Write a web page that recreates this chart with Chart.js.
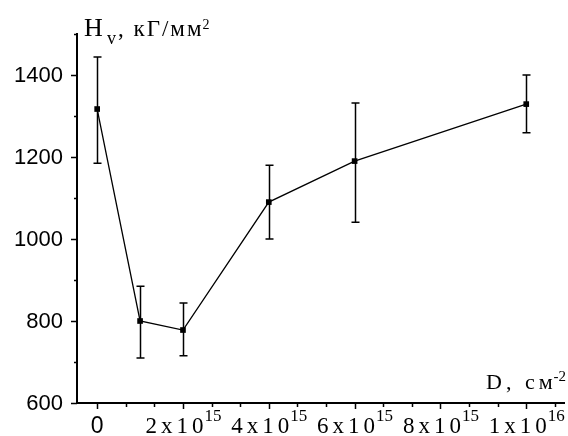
<!DOCTYPE html>
<html>
<head>
<meta charset="utf-8">
<script src="https://cdn.jsdelivr.net/npm/chart.js@4/dist/chart.umd.min.js"></script>
<style>
  html,body{margin:0;padding:0;background:#fff;}
  #wrap{width:568px;height:436px;position:relative;}
</style>
</head>
<body>
<div id="wrap"><canvas id="hv"></canvas></div>
<script>
// data
const dose = [0, 1e15, 2e15, 4e15, 6e15, 1e16];
const hv = [1317, 800, 778, 1090, 1190, 1329];
const hvHigh = [1444, 885, 844, 1180, 1332, 1400];
const hvLow = [1185, 710, 715, 1000, 1041, 1259];

const yTicks = [600, 800, 1000, 1200, 1400];
const yMinor = [700, 900, 1100, 1300, 1500];
const xTicks = [0, 2e15, 4e15, 6e15, 8e15, 1e16];
const xTickBase = ['0', '2x10', '4x10', '6x10', '8x10', '1x10'];
const xTickExp = ['', '15', '15', '15', '15', '16'];

const serif = '"Liberation Serif", "Times New Roman", serif';
const sans = '"Liberation Sans", Arial, sans-serif';

// text with a raised/lowered part right after it
function textWithSup(ctx, x, y, base, baseFont, baseSp, sup, supFont, dy){
  ctx.font = baseFont; ctx.letterSpacing = baseSp + 'px';
  ctx.fillText(base, x, y);
  const w = ctx.measureText(base).width - baseSp;
  ctx.font = supFont; ctx.letterSpacing = '0px';
  ctx.fillText(sup, x + w + 1, y + dy);
}

// error bars
const errorBars = {
  id: 'errorBars',
  afterDatasetsDraw(chart){
    const {ctx, scales:{x, y}} = chart;
    ctx.save();
    ctx.strokeStyle = '#000'; ctx.lineWidth = 1.5;
    dose.forEach((d,i)=>{
      const px = Math.round(x.getPixelForValue(d)) + 0.5;
      const top = y.getPixelForValue(hvHigh[i]);
      const bot = y.getPixelForValue(hvLow[i]);
      ctx.beginPath();
      ctx.moveTo(px, top); ctx.lineTo(px, bot);
      ctx.moveTo(px-4, top); ctx.lineTo(px+4, top);
      ctx.moveTo(px-4, bot); ctx.lineTo(px+4, bot);
      ctx.stroke();
    });
    ctx.restore();
  }
};

// tick marks, tick labels and axis titles
const axesDeco = {
  id: 'axesDeco',
  afterDraw(chart){
    const {ctx, chartArea:a, scales:{x, y}} = chart;
    ctx.save();
    ctx.strokeStyle = '#000'; ctx.fillStyle = '#000'; ctx.lineWidth = 1.5;
    ctx.beginPath();
    yTicks.forEach(v=>{ const py = Math.round(y.getPixelForValue(v))+0.5; ctx.moveTo(a.left-6, py); ctx.lineTo(a.left, py); });
    yMinor.forEach(v=>{ const py = Math.round(y.getPixelForValue(v))+0.5; ctx.moveTo(a.left-3, py); ctx.lineTo(a.left, py); });
    xTicks.forEach(v=>{ const px = Math.round(x.getPixelForValue(v))+0.5; ctx.moveTo(px, a.bottom); ctx.lineTo(px, a.bottom+6); });
    // two minor ticks between major ones
    const step = xTicks[1]-xTicks[0];
    for(let v=xTicks[0]; v<=x.max; v+=step/3){
      const px = Math.round(x.getPixelForValue(v))+0.5;
      if(px>=a.left && px<=a.right){ ctx.moveTo(px, a.bottom); ctx.lineTo(px, a.bottom+4); }
    }
    ctx.stroke();

    // y tick labels
    ctx.font = '22px ' + sans;
    ctx.textAlign = 'right'; ctx.textBaseline = 'middle';
    yTicks.forEach(v=> ctx.fillText(String(v), a.left-14, y.getPixelForValue(v)+1));

    // x tick labels with exponent
    ctx.textBaseline = 'alphabetic'; ctx.textAlign = 'left';
    xTicks.forEach((v,i)=>{
      const px = x.getPixelForValue(v);
      if(!xTickExp[i]){
        ctx.font = '23px ' + sans; ctx.letterSpacing = '0px';
        ctx.textAlign = 'center'; ctx.fillText(xTickBase[i], px, a.bottom+30); ctx.textAlign = 'left';
        return;
      }
      ctx.font = '23px ' + serif; ctx.letterSpacing = '4px';
      const wb = ctx.measureText(xTickBase[i]).width - 4;
      ctx.font = '17px ' + serif; ctx.letterSpacing = '0px';
      const we = ctx.measureText(xTickExp[i]).width;
      const start = px - (wb+we)/2;
      textWithSup(ctx, start, a.bottom+30, xTickBase[i], '23px ' + serif, 4, xTickExp[i], '17px ' + serif, -12);
    });

    // y title
    ctx.letterSpacing = '0px';
    ctx.font = '26px ' + serif; ctx.fillText('H', 84, 36);
    ctx.font = '18px ' + serif; ctx.fillText('v', 107, 44);
    textWithSup(ctx, 118, 36, ', кГ/мм', '23px ' + serif, 2, '2', '14px ' + serif, -7);

    // x title
    textWithSup(ctx, 486, 389, 'D, см', '22px ' + serif, 4, '-2', '15px ' + serif, -8);
    ctx.restore();
  }
};

new Chart(document.getElementById('hv').getContext('2d'), {
  type: 'scatter',
  data: {
    datasets: [{
      data: dose.map((d,i)=>({x:d, y:hv[i]})),
      showLine: true,
      borderColor: '#000',
      borderWidth: 1.3,
      backgroundColor: '#000',
      pointStyle: 'rect',
      pointRadius: 4,
      pointBorderWidth: 0
    }]
  },
  options: {
    responsive: true,
    maintainAspectRatio: false,
    animation: false,
    layout: { padding: { top: 34, right: 0, left: 0, bottom: 0 } },
    plugins: { legend: { display: false }, tooltip: { enabled: false } },
    scales: {
      x: {
        type: 'linear', min: -0.47e15, max: 10.88e15,
        grid: { display: false },
        border: { display: true, color: '#000', width: 2 },
        ticks: { display: false },
        afterFit(s){ s.height = 33; }
      },
      y: {
        type: 'linear', min: 600, max: 1500,
        grid: { display: false },
        border: { display: true, color: '#000', width: 2 },
        ticks: { display: false },
        afterFit(s){ s.width = 77; }
      }
    }
  },
  plugins: [errorBars, axesDeco]
});
</script>
</body>
</html>
